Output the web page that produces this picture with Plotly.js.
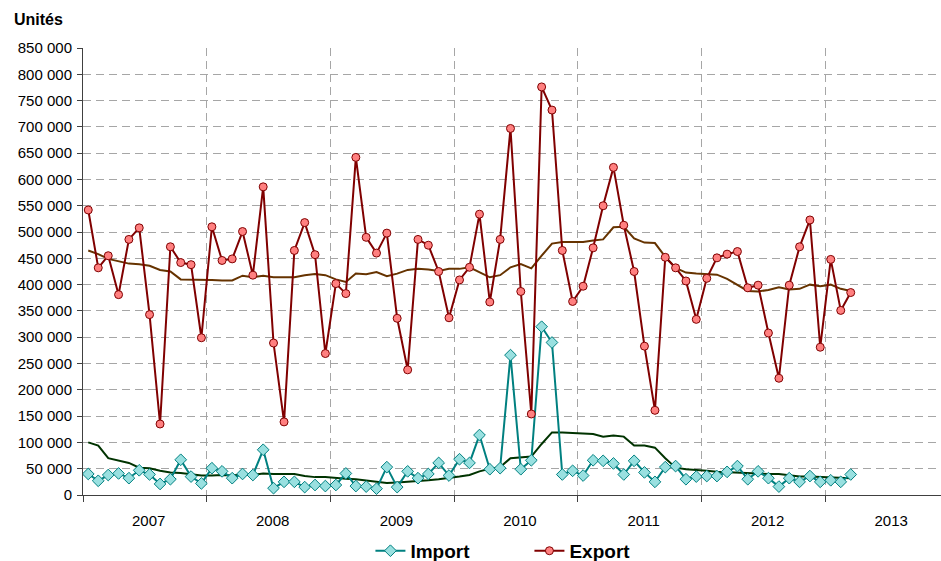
<!DOCTYPE html>
<html>
<head>
<meta charset="utf-8">
<script src="https://cdn.plot.ly/plotly-3.0.1.min.js"></script>
<style>html,body{margin:0;padding:0;background:#fff;}#chart{width:941px;height:561px;}</style>
</head>
<body>
<div id="chart"></div>
<script>
// Monthly categories: Jan 2007 .. Mar 2013
const startYear = 2007;
const monthCount = 75;
const months = [];
for (let i = 0; i < monthCount; i++) {
  const y = startYear + Math.floor(i / 12);
  const m = (i % 12) + 1;
  months.push(y + '-' + (m < 10 ? '0' + m : m));
}

const yearLabels = ['2007', '2008', '2009', '2010', '2011', '2012', '2013'];
const yearCenters = ['2007-07-14', '2008-07-14', '2009-07-14', '2010-07-14', '2011-07-14', '2012-07-14', '2013-07-14'];

const exportValues = [
  542000, 432000, 455000, 381000, 486000, 508000, 343000, 135000, 472000, 442000, 438000, 299000,
  510000, 446000, 449000, 501000, 418000, 586000, 289000, 139000, 465000, 518000, 457000, 269000,
  402000, 383000, 642000, 490000, 460000, 498000, 336000, 238000, 486000, 475000, 425000, 337000,
  409000, 433000, 534000, 367000, 486000, 697000, 387000, 154000, 776000, 732000, 465000, 368000,
  397000, 470000, 550000, 623000, 513000, 425000, 283000, 161000, 452000, 432000, 407000, 334000,
  412000, 451000, 458000, 463000, 394000, 399000, 308000, 222000, 399000, 472000, 523000, 281000,
  448000, 351000, 385000
];

const importValues = [
  40000, 27000, 38000, 41000, 32000, 47000, 39000, 21000, 30000, 67000, 35000, 22000,
  51000, 45000, 32000, 40000, 38000, 86000, 13000, 25000, 25000, 15000, 19000, 17000,
  19000, 41000, 17000, 16000, 12000, 53000, 15000, 45000, 32000, 40000, 61000, 37000,
  68000, 61000, 114000, 49000, 51000, 266000, 49000, 66000, 320000, 290000, 39000, 46000,
  37000, 66000, 65000, 60000, 39000, 65000, 43000, 25000, 53000, 55000, 30000, 35000,
  36000, 36000, 44000, 55000, 30000, 45000, 32000, 16000, 32000, 25000, 36000, 25000,
  28000, 25000, 39000
];

const exportAvg = [
  465000, 458000, 449000, 445000, 440000, 439000, 436000, 428000, 425000, 410000, 410000, 409000,
  409000, 408000, 408000, 417000, 414000, 417000, 414000, 414000, 414000, 418000, 420000, 418000,
  410000, 405000, 421000, 420000, 424000, 416000, 421000, 428000, 430000, 429000, 426000, 430000,
  430000, 433000, 424000, 414000, 418000, 433000, 439000, 431000, 455000, 478000, 481000, 481000,
  481000, 484000, 486000, 509000, 510000, 488000, 480000, 479000, 453000, 432000, 423000, 421000,
  420000, 419000, 411000, 400000, 388000, 387000, 390000, 395000, 391000, 392000, 400000, 397000,
  400000, 392000, 388000
];

const importAvg = [
  100000, 94000, 70000, 65000, 61000, 52000, 51000, 46000, 43000, 42000, 39000, 37000,
  37000, 38000, 37000, 39000, 38000, 41000, 40000, 40000, 40000, 36000, 34000, 34000,
  32000, 31000, 30000, 28000, 26000, 23000, 24000, 25000, 27000, 28000, 30000, 32000,
  35000, 38000, 45000, 50000, 53000, 70000, 72000, 73000, 97000, 119000, 119000, 118000,
  116000, 116000, 111000, 113000, 111000, 94000, 94000, 90000, 70000, 52000, 49000, 48000,
  46000, 44000, 43000, 42000, 41000, 41000, 40000, 40000, 38000, 35000, 35000, 34000,
  34000, 33000, 32000
];

const FONT = 'Liberation Sans, Arial, sans-serif';

const common = {x: months, xperiod: 'M1', xperiodalignment: 'middle', hoverinfo: 'x+y'};

const traces = [
  Object.assign({}, common, {
    y: exportAvg, type: 'scatter', mode: 'lines', name: 'Moyenne export', showlegend: false,
    line: {color: '#663300', width: 2}
  }),
  Object.assign({}, common, {
    y: importAvg, type: 'scatter', mode: 'lines', name: 'Moyenne import', showlegend: false,
    line: {color: '#003300', width: 2}
  }),
  Object.assign({}, common, {
    y: importValues, type: 'scatter', mode: 'lines+markers', name: 'Import',
    line: {color: '#008080', width: 2},
    marker: {symbol: 'diamond', size: 9, color: '#99E0E0', line: {color: '#008080', width: 1}}
  }),
  Object.assign({}, common, {
    y: exportValues, type: 'scatter', mode: 'lines+markers', name: 'Export',
    line: {color: '#800000', width: 2},
    marker: {symbol: 'circle', size: 8, color: '#FF8080', line: {color: '#800000', width: 1}}
  })
];

const layout = {
  width: 941, height: 561,
  margin: {l: 83, r: 0, t: 48, b: 66, pad: 0, autoexpand: false},
  paper_bgcolor: '#ffffff', plot_bgcolor: '#ffffff',
  separators: ', ',
  font: {family: FONT, size: 15, color: '#000000'},
  showlegend: true,
  legend: {
    orientation: 'h', x: 0.335, xanchor: 'left', y: -0.125, yanchor: 'middle',
    font: {family: FONT, size: 19, weight: 'bold', color: '#000000'},
    traceorder: 'normal', itemwidth: 30,
    entrywidth: 114, entrywidthmode: 'pixels'
  },
  xaxis: {
    type: 'date',
    range: ['2007-01-01', '2013-12-08'],
    tickmode: 'array', tickvals: yearCenters, ticktext: yearLabels,
    ticks: '', showgrid: false, zeroline: false,
    showline: true, linecolor: '#404040', linewidth: 1,
    tickfont: {family: FONT, size: 15, color: '#000000'},
    ticklabelstandoff: 12,
    minor: {
      tick0: '2007-01-01', dtick: 'M12', showgrid: true, gridcolor: '#a6a6a6',
      griddash: '8px,5px', gridwidth: 1, ticks: 'outside', ticklen: 6, tickcolor: '#404040'
    },
    fixedrange: true
  },
  yaxis: {
    range: [0, 850000], dtick: 50000, tick0: 0,
    tickformat: ',d',
    showgrid: true, gridcolor: '#a6a6a6', griddash: '8px,5px', gridwidth: 1,
    zeroline: false,
    showline: true, linecolor: '#404040', linewidth: 1,
    ticks: 'outside', ticklen: 5, tickcolor: '#404040',
    ticklabelstandoff: 2,
    tickfont: {family: FONT, size: 15, color: '#000000'},
    fixedrange: true
  },
  annotations: [{
    text: '<b>Unités</b>', xref: 'paper', yref: 'paper',
    x: -0.083, y: 1.063, xanchor: 'left', yanchor: 'middle', showarrow: false,
    font: {family: FONT, size: 16, color: '#000000'}
  }]
};

Plotly.newPlot('chart', traces, layout, {displayModeBar: false, staticPlot: true});
</script>
</body>
</html>
